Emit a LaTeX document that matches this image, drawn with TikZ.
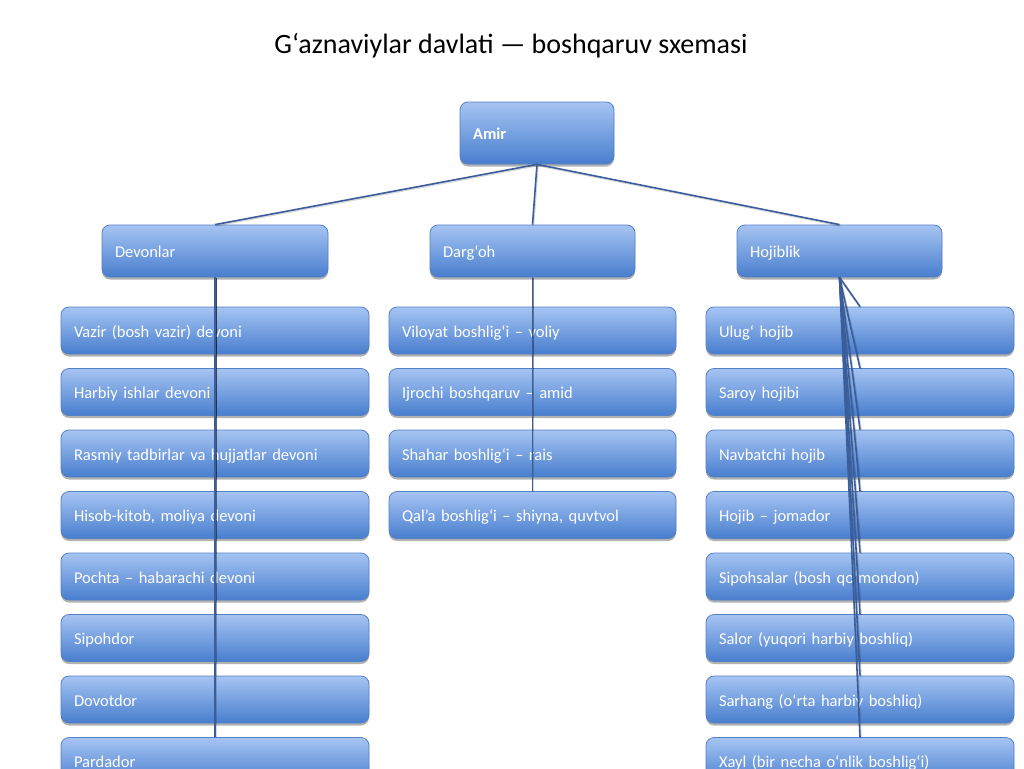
\documentclass[tikz,border=0pt]{standalone}
\usepackage{fontspec}
\setmainfont{Carlito}
\usetikzlibrary{shadows}
\definecolor{boxtop}{RGB}{166,196,243}
\definecolor{boxbot}{RGB}{72,126,206}
\definecolor{boxedge}{RGB}{84,128,196}
\definecolor{linkcol}{RGB}{58,94,155}
\tikzset{
  orgbox/.style={draw=boxedge, line width=0.8pt, rounded corners=8pt,
    top color=boxtop, bottom color=boxbot, text=white,
    font=\fontsize{16.5}{20}\selectfont, inner xsep=13pt, inner ysep=0pt,
    text height=17.5pt, text depth=3.6pt,
    align=left, anchor=center,
    drop shadow={shadow xshift=0pt, shadow yshift=-2.5pt, opacity=0.3, fill=black}},
  toplevel/.style={orgbox, minimum height=62pt, text width=128pt},
  midlevel/.style={orgbox, minimum height=52pt},
  leaf/.style={orgbox, minimum height=47pt},
  linkshadow/.style={draw=black, opacity=0.15, line width=2pt, transform canvas={xshift=0.8pt,yshift=-1pt}},
  link/.style={draw=linkcol, line width=1.6pt}
}
\begin{document}
\begin{tikzpicture}[x=1pt,y=-1pt]
\useasboundingbox (0,0) rectangle (1024,768);
\clip (0,0) rectangle (1024,768);
\node[font=\fontsize{28}{34}\selectfont, text=black] (title) at (511,46) {G‘aznaviylar davlati — boshqaruv sxemasi};

\node[toplevel, font=\fontsize{16.5}{20}\selectfont\bfseries] (amir) at (537,133) {Amir};
\node[midlevel, text width=200pt] (dev) at (215,251) {Devonlar};
\node[midlevel, text width=179pt] (dar) at (532.5,251) {Darg‘oh};
\node[midlevel, text width=179pt] (hoj) at (839.5,251) {Hojiblik};

% left column
\foreach \i/\t in {1/{Vazir (bosh vazir) devoni},2/{Harbiy ishlar devoni},3/{Rasmiy tadbirlar va hujjatlar devoni},4/{Hisob-kitob, moliya devoni},5/{Pochta – habarachi devoni},6/{Sipohdor},7/{Dovotdor},8/{Pardador}}{
  \node[leaf, text width=282pt] (l\i) at (215,{330.5+61.5*(\i-1)}) {\t};
}
% middle column
\foreach \i/\t in {1/{Viloyat boshlig‘i – voliy},2/{Ijrochi boshqaruv – amid},3/{Shahar boshlig‘i – rais},4/{Qal’a boshlig‘i – shiyna, quvtvol}}{
  \node[leaf, text width=261pt] (m\i) at (532.5,{330.5+61.5*(\i-1)}) {\t};
}
% right column
\foreach \i/\t in {1/{Ulug‘ hojib},2/{Saroy hojibi},3/{Navbatchi hojib},4/{Hojib – jomador},5/{Sipohsalar (bosh qo‘mondon)},6/{Salor (yuqori harbiy boshliq)},7/{Sarhang (o‘rta harbiy boshliq)},8/{Xayl (bir necha o‘nlik boshlig‘i)}}{
  \node[leaf, text width=282pt] (r\i) at (860,{330.5+61.5*(\i-1)}) {\t};
}

% connectors (shadow, then line)
\foreach \a/\b in {amir/dev,amir/dar,amir/hoj}{
  \draw[linkshadow] (\a.south) -- (\b.north);
  \draw[link] (\a.south) -- (\b.north);
}
\foreach \i in {1,...,8}{
  \draw[linkshadow] (dev.south) -- (l\i.north);
  \draw[linkshadow] (hoj.south) -- (r\i.north);
}
\foreach \i in {1,...,4}{
  \draw[linkshadow] (dar.south) -- (m\i.north);
}
\foreach \i in {1,...,8}{
  \draw[link] (dev.south) -- (l\i.north);
  \draw[link] (hoj.south) -- (r\i.north);
}
\foreach \i in {1,...,4}{
  \draw[link] (dar.south) -- (m\i.north);
}
\end{tikzpicture}
\end{document}
